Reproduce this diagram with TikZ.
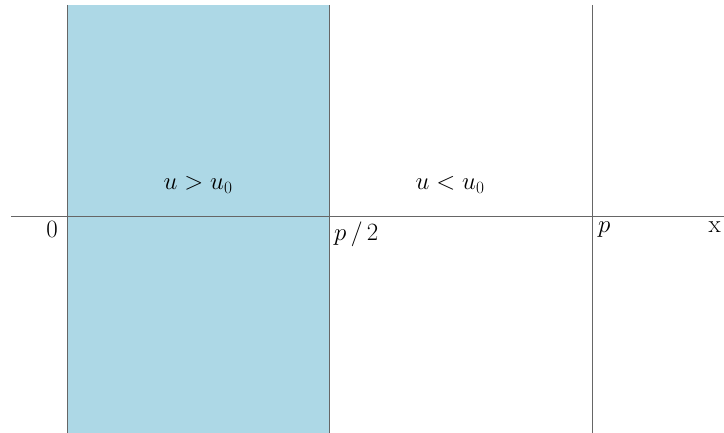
\documentclass[tikz,border=0pt]{standalone}
\begin{document}
\begin{tikzpicture}[x=1pt,y=-1pt,
  edge/.style={draw=black!60,line width=1pt},
  lbl/.style={inner sep=0pt,font=\fontsize{25}{30}\selectfont}]
\useasboundingbox (0,0) rectangle (724,433);
\fill[fill={rgb,255:red,173;green,216;blue,230}] (67,5) rectangle (329,433);
\draw[edge] (67,5) -- (67,433);
\draw[edge] (329,5) -- (329,433);
\draw[edge] (592,5) -- (592,433);
\draw[edge] (11,217) -- (724,217);
\node[lbl,anchor=north east] (z) at (58,221) {$0$};
\node[lbl,anchor=north west] (h) at (334,222) {$p\,/\,2$};
\node[lbl,anchor=north west] (p) at (598,222) {$p$};
\node[lbl,anchor=north east] (x) at (721,222) {x};
\node[lbl] (a) at (198,185) {$u > u_0$};
\node[lbl] (b) at (450,185) {$u < u_0$};
\end{tikzpicture}
\end{document}
